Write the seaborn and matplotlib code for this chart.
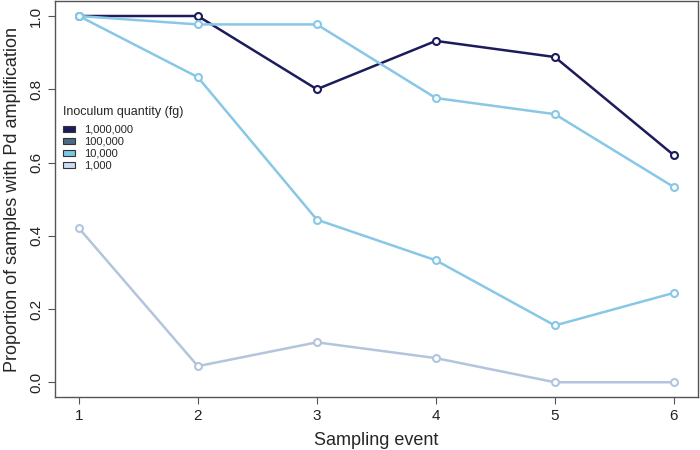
import numpy as np
import pandas as pd
import matplotlib
matplotlib.use("Agg")
import matplotlib.pyplot as plt
from matplotlib.patches import Patch
import seaborn as sns

# data
events = [1, 2, 3, 4, 5, 6]
dose_1e6 = [1.0, 1.0, 0.80, 0.932, 0.888, 0.62]
dose_1e4_a = [1.0, 0.977, 0.977, 0.776, 0.732, 0.533]
dose_1e4_b = [1.0, 0.833, 0.444, 0.333, 0.155, 0.244]
dose_1e3 = [0.421, 0.044, 0.109, 0.066, 0.0, 0.0]

series_names = ["1,000,000", "10,000 a", "10,000 b", "1,000"]
series_values = [dose_1e6, dose_1e4_a, dose_1e4_b, dose_1e3]
line_colors = ["#1c1c5c", "#88c8e6", "#88c8e6", "#b3c5dc"]

legend_labels = ["1,000,000", "100,000", "10,000", "1,000"]
legend_colors = ["#1c1c5c", "#4b6a85", "#7cc8e2", "#c8dcf4"]

df = pd.DataFrame({
    "event": events * len(series_names),
    "prop": sum(series_values, []),
    "series": np.repeat(series_names, len(events)),
})

sns.set_style("ticks")
plt.rcParams["font.family"] = ["Liberation Sans", "DejaVu Sans"]

fig = plt.figure(figsize=(7, 4.5), dpi=100)
ax = fig.add_axes([0.0786, 0.118, 0.918, 0.879])

sns.lineplot(data=df, x="event", y="prop", hue="series", hue_order=series_names,
             palette=dict(zip(series_names, line_colors)), ax=ax, lw=1.8,
             marker="o", markersize=5, markerfacecolor="white", markeredgewidth=1.5,
             legend=False)
# recolour marker edges to match lines
for line in ax.get_lines():
    line.set_markeredgecolor(line.get_color())

ax.set_xlim(0.8, 6.2)
ax.set_ylim(-0.04, 1.04)
ax.set_xticks(events)
ax.set_yticks([0.0, 0.2, 0.4, 0.6, 0.8, 1.0])
ax.set_yticklabels(["0.0", "0.2", "0.4", "0.6", "0.8", "1.0"], rotation=90, va="center")
ax.tick_params(axis="both", labelsize=11, length=5, color="#555555", labelcolor="#222222")
ax.tick_params(axis="x", pad=4)
ax.set_xlabel("Sampling event", fontsize=13, labelpad=6)
ax.set_ylabel("Proportion of samples with Pd amplification", fontsize=13, labelpad=6)
for s in ax.spines.values():
    s.set_visible(True)
    s.set_color("#555555")
    s.set_linewidth(1)

handles = [Patch(facecolor=c, edgecolor="#333333", lw=0.8) for c in legend_colors]
leg = ax.legend(handles, legend_labels, title="Inoculum quantity (fg)", loc="upper left",
                bbox_to_anchor=(0.0, 0.755), frameon=False, fontsize=8,
                title_fontsize=9, handlelength=1.1, handleheight=0.55,
                labelspacing=0.18, handletextpad=0.8, borderaxespad=0.3)
leg._legend_box.align = "left"
leg._legend_box.sep = 5

fig.savefig("out.png", dpi=100)
